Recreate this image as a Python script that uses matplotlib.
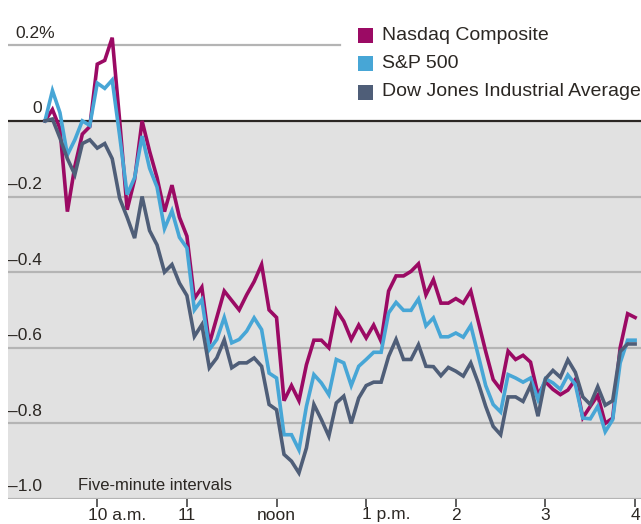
import matplotlib
matplotlib.use("Agg")
import matplotlib.pyplot as plt
from matplotlib.patches import Rectangle
import matplotlib.transforms as mtransforms

plt.rcParams['font.family'] = ['Liberation Sans Narrow', 'Liberation Sans', 'DejaVu Sans']

# % change from previous close, five-minute intervals (9:25 baseline .. 4:00)
nasdaq = [0.0, 0.03, -0.02, -0.24, -0.12, -0.035, -0.015, 0.15, 0.16, 0.22,
          0.0, -0.235, -0.155, 0.0, -0.08, -0.15, -0.24, -0.17, -0.255, -0.305,
          -0.47, -0.44, -0.59, -0.52, -0.45, -0.475, -0.50, -0.46, -0.425, -0.38,
          -0.50, -0.52, -0.74, -0.70, -0.74, -0.645, -0.58, -0.58, -0.60, -0.50,
          -0.53, -0.578, -0.54, -0.574, -0.54, -0.583, -0.45, -0.41, -0.41, -0.398,
          -0.378, -0.46, -0.42, -0.482, -0.482, -0.47, -0.482, -0.45, -0.53, -0.61,
          -0.684, -0.71, -0.609, -0.631, -0.62, -0.638, -0.724, -0.69, -0.71, -0.724,
          -0.712, -0.684, -0.785, -0.755, -0.726, -0.80, -0.786, -0.60, -0.51, -0.52]
sp500 = [0.0, 0.08, 0.022, -0.09, -0.05, 0.0, -0.012, 0.10, 0.086, 0.108,
         -0.04, -0.195, -0.15, -0.04, -0.125, -0.175, -0.285, -0.238, -0.308, -0.336,
         -0.50, -0.473, -0.605, -0.578, -0.52, -0.587, -0.578, -0.556, -0.521, -0.552,
         -0.667, -0.68, -0.83, -0.83, -0.87, -0.755, -0.671, -0.693, -0.724, -0.631,
         -0.64, -0.70, -0.649, -0.631, -0.612, -0.612, -0.508, -0.48, -0.501, -0.501,
         -0.471, -0.542, -0.521, -0.571, -0.571, -0.561, -0.572, -0.541, -0.62, -0.70,
         -0.75, -0.77, -0.671, -0.68, -0.691, -0.68, -0.737, -0.682, -0.693, -0.71,
         -0.672, -0.697, -0.786, -0.788, -0.755, -0.822, -0.79, -0.64, -0.58, -0.58]
dow = [0.0, 0.005, -0.045, -0.10, -0.142, -0.06, -0.05, -0.072, -0.06, -0.10,
       -0.205, -0.255, -0.31, -0.20, -0.29, -0.328, -0.40, -0.38, -0.429, -0.462,
       -0.57, -0.539, -0.653, -0.627, -0.579, -0.653, -0.64, -0.64, -0.627, -0.649,
       -0.75, -0.764, -0.882, -0.90, -0.931, -0.865, -0.75, -0.79, -0.834, -0.746,
       -0.728, -0.80, -0.733, -0.70, -0.691, -0.691, -0.623, -0.578, -0.631, -0.631,
       -0.592, -0.649, -0.65, -0.674, -0.652, -0.662, -0.675, -0.64, -0.693, -0.755,
       -0.808, -0.83, -0.73, -0.73, -0.742, -0.70, -0.781, -0.682, -0.66, -0.678,
       -0.632, -0.665, -0.73, -0.75, -0.703, -0.752, -0.74, -0.61, -0.59, -0.59]

series_names = ["Nasdaq Composite", "S&P 500", "Dow Jones Industrial Average"]
colors = ["#9b0a64", "#47a6d6", "#4f5e78"]

tick_pos = [7, 19, 31, 43, 55, 67, 79]
tick_labels = ["10 a.m.", "11", "noon", "1 p.m.", "2", "3", "4"]
y_levels = [0.2, 0, -0.2, -0.4, -0.6, -0.8, -1.0]
y_labels = ["0.2%", "0", "\u20130.2", "\u20130.4", "\u20130.6", "\u20130.8", "\u20131.0"]

W, H = 641, 524
fig = plt.figure(figsize=(W / 100, H / 100), dpi=100)
ax = fig.add_axes([8 / W, 25 / H, 633 / W, 499 / H])
ax.set_xlim(-4.95, 79.79)
ax.set_ylim(-1.0, 0.3197)
for s in ax.spines.values():
    s.set_visible(False)
ax.set_yticks([])

ax.axhspan(-1.0, 0, color="#e1e1e1", lw=0, zorder=0)
for y in y_levels:
    if y == 0:
        continue
    xmax = 0.525 if y == 0.2 else 1
    ax.axhline(y, xmin=0, xmax=xmax, color="#b4b4b4", lw=1.6, zorder=1)
ax.axhline(0, color="#2b2723", lw=1.6, zorder=1)

x = list(range(len(nasdaq)))
for data, c in zip([nasdaq, sp500, dow], colors):
    ax.plot(x, data, color=c, lw=2.6, zorder=3, solid_joinstyle="miter")

# y labels sit above their gridlines
ytrans = mtransforms.blended_transform_factory(ax.transAxes, ax.transData)
for y, lab in zip(y_levels, y_labels):
    if lab.endswith("%"):
        ax.text(0.011, y + 0.012, lab, transform=ytrans, ha="left", va="bottom",
                fontsize=12.5, color="#2b2723")
    else:
        ax.text(0.054, y + 0.012, lab, transform=ytrans, ha="right", va="bottom",
                fontsize=12.5, color="#2b2723")

ax.text(0.11, -0.985, "Five-minute intervals", transform=ytrans, ha="left",
        va="bottom", fontsize=12, color="#2b2723")

# x ticks and labels
ax.set_xticks(tick_pos)
ax.set_xticklabels([])
ax.tick_params(axis="x", length=6, width=1.2, color="#444444", direction="out", pad=0)
xtrans = mtransforms.blended_transform_factory(ax.transData, fig.transFigure)
for p, lab in zip(tick_pos, tick_labels):
    if lab in ("10 a.m.", "1 p.m."):
        shift = -9 if lab == "10 a.m." else -4
        tr = mtransforms.offset_copy(xtrans, fig=fig, x=shift, y=0, units="dots")
        ax.text(p, 1 - 515 / H, lab, transform=tr, ha="left", va="center",
                fontsize=12.5, color="#2b2723", clip_on=False)
    else:
        ax.text(p, 1 - 515 / H, lab, transform=xtrans, ha="center", va="center",
                fontsize=12.5, color="#2b2723", clip_on=False)

# legend
for k, (name, c) in enumerate(zip(series_names, colors)):
    cy = 35 + k * 28.5
    fig.add_artist(Rectangle((358 / W, 1 - (cy + 7.5) / H), 15 / W, 15 / H,
                             transform=fig.transFigure, color=c, lw=0))
    fig.text(382 / W, 1 - cy / H, name, ha="left", va="center", fontsize=14,
             color="#2b2723")

fig.savefig("out.png", dpi=100)
